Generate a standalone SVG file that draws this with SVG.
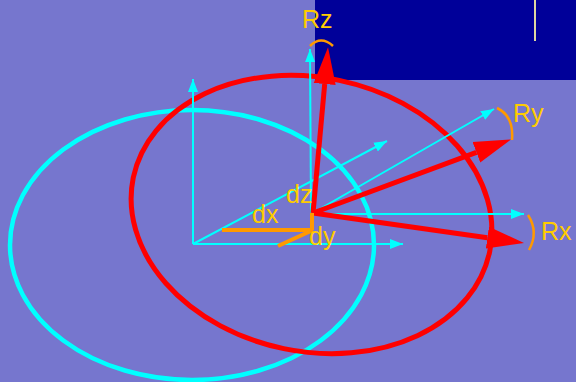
<svg xmlns="http://www.w3.org/2000/svg" width="576" height="382" viewBox="0 0 576 382">
  <defs>
    <style>
      .lbl { font-family: "Liberation Sans", Arial, sans-serif; font-size: 25px; fill: #FFCC00; }
      .axis { stroke: #00FFFF; stroke-width: 2; fill: none; }
      .rot { stroke: #FF0000; stroke-width: 5; fill: none; }
      .d { stroke: #FF9900; stroke-width: 4; fill: none; }
      .arc { stroke: #FF9900; stroke-width: 2.5; fill: none; }
    </style>
    <marker id="cyanHead" markerUnits="userSpaceOnUse" viewBox="0 -6 14 12" refX="13" refY="0" markerWidth="14" markerHeight="12" orient="auto">
      <path d="M0,-5 L13,0 L0,5 z" fill="#00FFFF"/>
    </marker>
    <marker id="redHead" markerUnits="userSpaceOnUse" viewBox="0 -12 40 24" refX="0" refY="0" markerWidth="40" markerHeight="24" orient="auto">
      <path d="M0,-11 L37,0 L0,11 z" fill="#FF0000"/>
    </marker>
  </defs>

  <rect x="0" y="0" width="576" height="382" fill="#7676CE"/>
  <rect x="315" y="0" width="261" height="80" fill="#000099"/>
  <line x1="535" y1="0" x2="535" y2="41" stroke="#DDD8A0" stroke-width="2"/>

  <g id="cyanEllipse">
    <ellipse cx="192" cy="245" rx="182" ry="135" fill="none" stroke="#00FFFF" stroke-width="4.5"/>
  </g>
  <g id="redEllipse">
    <ellipse cx="311.5" cy="214.5" rx="182" ry="137" transform="rotate(11.7 311.5 214.5)" fill="none" stroke="#FF0000" stroke-width="5"/>
  </g>

  <g id="connectors">
    <g id="leftFrame">
      <line class="axis" x1="193" y1="244" x2="193" y2="79" marker-end="url(#cyanHead)"/>
      <line class="axis" x1="193" y1="244" x2="403" y2="244" marker-end="url(#cyanHead)"/>
      <line class="axis" x1="193" y1="244" x2="387" y2="141" marker-end="url(#cyanHead)"/>
    </g>
    <g id="rightFrame">
      <line class="axis" x1="311" y1="214" x2="310" y2="49" marker-end="url(#cyanHead)"/>
      <line class="axis" x1="311" y1="214" x2="524" y2="214" marker-end="url(#cyanHead)"/>
      <line class="axis" x1="311" y1="214" x2="494" y2="109" marker-end="url(#cyanHead)"/>
    </g>
    <g id="rotations">
      <line class="rot" x1="313" y1="213" x2="324.7" y2="84" marker-end="url(#redHead)"/>
      <line class="rot" x1="313" y1="213" x2="476.4" y2="152.3" marker-end="url(#redHead)"/>
      <line class="rot" x1="313" y1="213" x2="487.4" y2="237.7" marker-end="url(#redHead)"/>
    </g>
    <g id="offsets">
      <line class="d" x1="312" y1="213" x2="312" y2="230"/>
      <line class="d" x1="222" y1="230" x2="313" y2="230"/>
      <line class="d" x1="313" y1="230" x2="278" y2="246"/>
    </g>
    <g id="arcs">
      <path class="arc" d="M310,46 Q321,35 333,46"/>
      <path class="arc" d="M497,108 Q514,116 512,140"/>
      <path class="arc" d="M528,215 Q539,232 529,250"/>
    </g>
  </g>

  <g id="labels">
    <text class="lbl" x="302" y="28">Rz</text>
    <text class="lbl" x="513" y="122">Ry</text>
    <text class="lbl" x="541" y="240">Rx</text>
    <text class="lbl" x="286" y="203">dz</text>
    <text class="lbl" x="252" y="223">dx</text>
    <text class="lbl" x="309" y="245">dy</text>
  </g>
</svg>
